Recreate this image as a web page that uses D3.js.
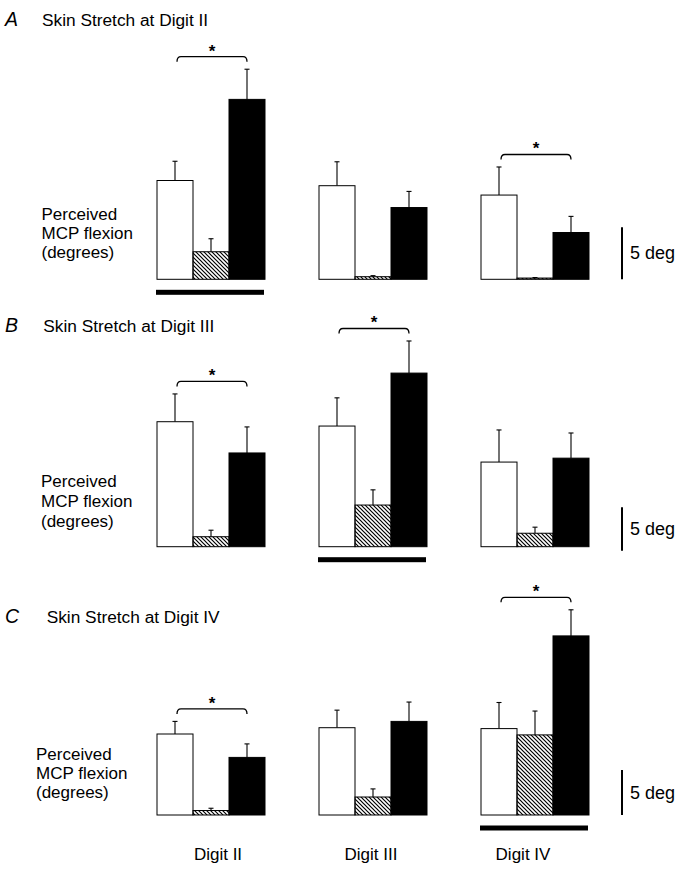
<!DOCTYPE html>
<html><head><meta charset="utf-8">
<script src="https://cdn.jsdelivr.net/npm/d3@7"></script>
<style>
body{margin:0;background:#fff}
svg{display:block}
text{font-family:"Liberation Sans",Arial,Helvetica,sans-serif;fill:#000}
</style>
</head><body>
<svg id="chart" width="683" height="872"></svg>
<script>
// ---------- DATA ----------
const digits = ["Digit II", "Digit III", "Digit IV"];
const conditions = ["open", "hatched", "filled"];
const panelLetters = ["A", "B", "C"];
const panelTitles = ["Skin Stretch at Digit II", "Skin Stretch at Digit III", "Skin Stretch at Digit IV"];
const yLabelLines = ["Perceived", "MCP flexion", "(degrees)"];
const scaleBarLabel = "5 deg";
const scaleBarValue = 5;

// mean perceived MCP flexion (deg), [digit][condition]
const meanA = [[9.5, 2.65, 17.3], [9.0, 0.25, 6.9], [8.1, 0.12, 4.5]];
const errA  = [[1.85, 1.25, 2.9], [2.3, 0.1, 1.55], [2.7, 0.05, 1.55]];
const meanB = [[14.4, 1.15, 10.8], [13.9, 4.8, 20.0], [9.75, 1.55, 10.2]];
const errB  = [[3.2, 0.75, 3.0], [3.25, 1.75, 3.7], [3.7, 0.7, 2.9]];
const meanC = [[9.0, 0.5, 6.4], [9.7, 2.0, 10.4], [9.6, 8.9, 19.9]];
const errC  = [[1.4, 0.25, 1.5], [1.95, 0.9, 2.15], [2.9, 2.65, 2.9]];
// digits with a significant (*) difference between open and filled bars
const sigA = [0, 2];
const sigB = [0, 1];
const sigC = [0, 2];
// stretched digit (thick bar under group)
const stretchedA = 0, stretchedB = 1, stretchedC = 2;

// ---------- LAYOUT ----------
const svg = d3.select("#chart");
const defs = svg.append("defs");
const pat = defs.append("pattern").attr("id", "hatch")
  .attr("patternUnits", "userSpaceOnUse").attr("width", 4).attr("height", 4);
pat.append("path").attr("d", "M-1,-1L5,5M3,-1L5,1M-1,3L1,5")
  .attr("stroke", "#000").attr("stroke-width", 1.2);

const panels = [
  {letter: panelLetters[0], title: panelTitles[0], mean: meanA, err: errA, sig: sigA, stretched: stretchedA,
   base: 279.3, px5: 52, sbBottom: 279.3, headY: 25.5, titleX: 42, labX: 41.5, labY: 219.5, labGap: 19.2},
  {letter: panelLetters[1], title: panelTitles[1], mean: meanB, err: errB, sig: sigB, stretched: stretchedB,
   base: 546.7, px5: 43.4, sbBottom: 550.7, headY: 331.7, titleX: 43.3, labX: 41, labY: 487, labGap: 20.1},
  {letter: panelLetters[2], title: panelTitles[2], mean: meanC, err: errC, sig: sigC, stretched: stretchedC,
   base: 815, px5: 45, sbBottom: 815, headY: 622.5, titleX: 46.7, labX: 36, labY: 759.5, labGap: 19.2}
];

const xGroup = d3.scaleBand().domain(digits).range([157, 589]).paddingInner(1/3).paddingOuter(0);
const xCond = d3.scaleBand().domain(conditions).range([0, xGroup.bandwidth()]).padding(0);
const fills = {open: "#fff", hatched: "url(#hatch)", filled: "#000"};

panels.forEach(p => {
  const y = d3.scaleLinear().domain([0, scaleBarValue]).range([p.base, p.base - p.px5]);
  const g = svg.append("g");

  // heading
  g.append("text").attr("x", 5).attr("y", p.headY).attr("font-size", 19.5)
    .attr("font-style", "italic").text(p.letter);
  g.append("text").attr("x", p.titleX).attr("y", p.headY + 0.5).attr("font-size", 17.3).text(p.title);

  // y label
  const lab = g.append("text").attr("font-size", 17);
  yLabelLines.forEach((t, i) => lab.append("tspan").attr("x", p.labX).attr("y", p.labY + i * p.labGap).text(t));

  digits.forEach((d, di) => {
    const gx = xGroup(d);
    conditions.forEach((c, ci) => {
      const v = p.mean[di][ci], e = p.err[di][ci];
      const x0 = gx + xCond(c), w = xCond.bandwidth();
      const cx = x0 + w / 2;
      // error bar
      g.append("line").attr("x1", cx).attr("x2", cx).attr("y1", y(v)).attr("y2", y(v + e))
        .attr("stroke", "#000").attr("stroke-width", 1.1);
      g.append("line").attr("x1", cx - 2.5).attr("x2", cx + 2.5).attr("y1", y(v + e)).attr("y2", y(v + e))
        .attr("stroke", "#000").attr("stroke-width", 1.1);
      g.append("rect").attr("x", x0).attr("y", y(v)).attr("width", w).attr("height", y(0) - y(v))
        .attr("fill", fills[c]).attr("stroke", "#000").attr("stroke-width", 1);
    });

    // significance bracket
    if (p.sig.includes(di)) {
      const x1 = gx + xCond(conditions[0]) + xCond.bandwidth() / 2 + 2;
      const x2 = gx + xCond(conditions[2]) + xCond.bandwidth() / 2;
      const top = d3.max(conditions, (c, ci) => p.mean[di][ci] + p.err[di][ci]);
      const yb = y(top) - 12.5;
      g.append("path")
        .attr("d", `M${x1},${yb + 5}Q${x1},${yb} ${x1 + 4},${yb}L${x2 - 4},${yb}Q${x2},${yb} ${x2},${yb + 5}`)
        .attr("fill", "none").attr("stroke", "#000").attr("stroke-width", 1.3);
      g.append("text").attr("x", (x1 + x2) / 2).attr("y", yb).attr("text-anchor", "middle")
        .attr("font-size", 17).attr("font-weight", "bold").text("*");
    }
  });

  // stretched digit marker bar
  const sd = digits[p.stretched];
  g.append("rect").attr("x", xGroup(sd) - 1).attr("y", y(0) + 10.5)
    .attr("width", xGroup.bandwidth()).attr("height", 5).attr("fill", "#000");

  // scale bar
  const sbLen = y(0) - y(scaleBarValue);
  g.append("line").attr("x1", 622).attr("x2", 622).attr("y1", p.sbBottom).attr("y2", p.sbBottom - sbLen)
    .attr("stroke", "#000").attr("stroke-width", 2);
  g.append("text").attr("x", 630).attr("y", p.sbBottom - sbLen / 2 + 6).attr("font-size", 18).text(scaleBarLabel);
});

// digit labels
const labelDx = [7, -2, -12];
svg.selectAll("text.digit").data(digits).enter().append("text").attr("class", "digit")
  .attr("x", (d, i) => xGroup(d) + xGroup.bandwidth() / 2 + labelDx[i])
  .attr("y", 859.5).attr("text-anchor", "middle").attr("font-size", 17).text(d => d);
</script>
</body></html>
